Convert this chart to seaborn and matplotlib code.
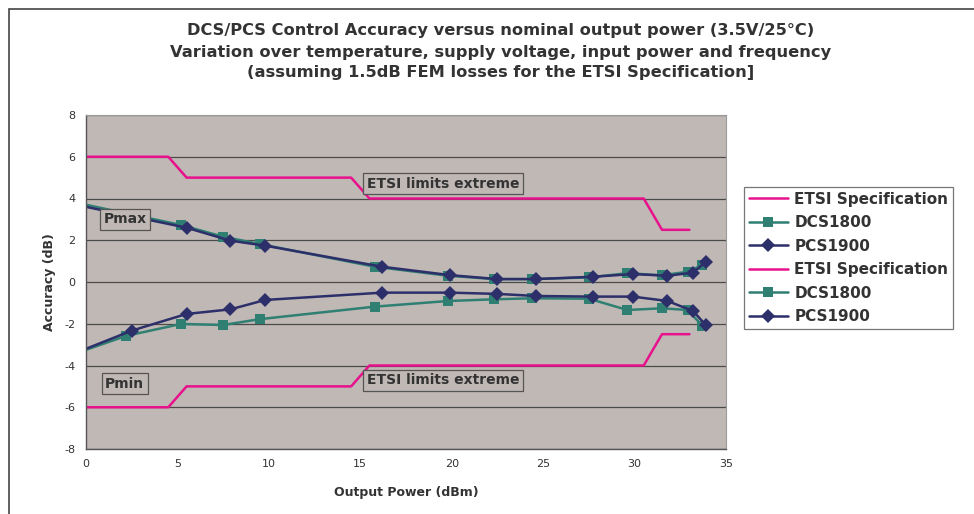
import pandas as pd
import matplotlib.pyplot as plt
import seaborn as sns
from matplotlib.patches import Rectangle

# ETSI limits (upper and lower)
etsi_x = [0, 4.5, 5.5, 14.5, 15.5, 30.5, 31.5, 33]
etsi_upper = [6, 6, 5, 5, 4, 4, 2.5, 2.5]
etsi_lower = [-6, -6, -5, -5, -4, -4, -2.5, -2.5]

# DCS1800 measured accuracy
dcs_x = [0, 2.2, 5.2, 7.5, 9.5, 15.8, 19.8, 22.3, 24.4, 27.5, 29.6, 31.5, 32.9, 33.7]
dcs_pmax = [3.7, None, 2.73, 2.17, 1.82, 0.73, 0.3, 0.14, 0.14, 0.22, 0.42, 0.32, 0.49, 0.81]
dcs_pmin = [-3.25, -2.58, -2.01, -2.06, -1.78, -1.18, -0.91, -0.83, -0.78, -0.8, -1.34, -1.26, -1.34, -2.09]

# PCS1900 measured accuracy
pcs_x = [0, 2.5, 5.5, 7.9, 9.8, 16.2, 19.9, 22.5, 24.6, 27.7, 29.9, 31.8, 33.2, 33.9]
pcs_pmax = [3.6, None, 2.6, 1.98, 1.74, 0.73, 0.33, 0.14, 0.14, 0.25, 0.38, 0.3, 0.45, 0.97]
pcs_pmin = [-3.2, -2.33, -1.53, -1.31, -0.86, -0.51, -0.51, -0.57, -0.67, -0.7, -0.7, -0.91, -1.39, -2.07]

TITLE = ("DCS/PCS Control Accuracy versus nominal output power (3.5V/25\u00b0C)\n"
         "Variation over temperature, supply voltage, input power and frequency\n"
         "(assuming 1.5dB FEM losses for the ETSI Specification]")

ETSI_COLOR = "#E8118C"
DCS_COLOR = "#2F7F73"
PCS_COLOR = "#2D2F6A"
BG_COLOR = "#C0B8B5"
TEXT_COLOR = "#333333"

sns.set_style("white")
plt.rcParams['font.family'] = ['DejaVu Sans']
plt.rcParams['axes.unicode_minus'] = False

fig = plt.figure(figsize=(9.74, 5.14), dpi=100)
ax = fig.add_axes([86 / 974, 65 / 514, 640 / 974, 334 / 514])
ax.set_facecolor(BG_COLOR)

# outer chart border (runs off the right and bottom edges)
fig.patches.append(Rectangle((9 / 974, -1), 2, 1 + 505 / 514, transform=fig.transFigure,
                             fill=False, edgecolor="#444444", linewidth=1.2))


def series(x, y):
    return pd.DataFrame({"x": x, "y": y}).dropna()


def draw_group(etsi_y, dcs_y, pcs_y):
    sns.lineplot(data=series(etsi_x, etsi_y), x="x", y="y", ax=ax, color=ETSI_COLOR,
                 linewidth=1.8, label="ETSI Specification", sort=False, estimator=None)
    sns.lineplot(data=series(dcs_x, dcs_y), x="x", y="y", ax=ax, color=DCS_COLOR,
                 linewidth=1.8, marker="s", markersize=6.5, markeredgewidth=0,
                 markevery=slice(1, None), label="DCS1800", sort=False, estimator=None)
    sns.lineplot(data=series(pcs_x, pcs_y), x="x", y="y", ax=ax, color=PCS_COLOR,
                 linewidth=1.8, marker="D", markersize=7, markeredgewidth=0,
                 markevery=slice(1, None), label="PCS1900", sort=False, estimator=None)


draw_group(etsi_upper, dcs_pmax, pcs_pmax)
draw_group(etsi_lower, dcs_pmin, pcs_pmin)

ax.set_xlim(0, 35)
ax.set_ylim(-8, 8)
ax.set_xticks(range(0, 36, 5))
ax.set_yticks(range(-8, 9, 2))
ax.yaxis.grid(True, color="#4a4a4a", linewidth=0.9)
ax.set_axisbelow(True)
for side in ["top", "right"]:
    ax.spines[side].set_color("#9a9a9a")
    ax.spines[side].set_linewidth(0.8)
for side in ["left", "bottom"]:
    ax.spines[side].set_color("#555555")
    ax.spines[side].set_linewidth(1.0)
ax.tick_params(axis="both", length=4, width=0.8, color="#555555",
               labelsize=8, labelcolor=TEXT_COLOR, direction="out")

ax.set_xlabel("Output Power (dBm)", fontsize=9, fontweight="bold", color=TEXT_COLOR, labelpad=12)
ax.set_ylabel("Accuracy (dB)", fontsize=9, fontweight="bold", color=TEXT_COLOR, labelpad=6)

box = dict(boxstyle="square,pad=0.25", facecolor=BG_COLOR, edgecolor="#555555", linewidth=0.9)
txt = dict(fontsize=10, fontweight="bold", color=TEXT_COLOR, bbox=box, va="center")
ax.text(0.95, 3.0, "Pmax", ha="left", **txt)
ax.text(1.05, -4.88, "Pmin", ha="left", **txt)
ax.text(15.35, 4.7, "ETSI limits extreme", ha="left", **txt)
ax.text(15.35, -4.7, "ETSI limits extreme", ha="left", **txt)

fig.text(501 / 974, 1 - 52 / 514, TITLE, ha="center", va="center", fontsize=11.7,
         fontweight="bold", color=TEXT_COLOR, linespacing=1.5)

leg = ax.legend(loc="upper left", bbox_to_anchor=(744 / 974, 1 - 187 / 514),
                bbox_transform=fig.transFigure, frameon=True, fancybox=False,
                prop={"weight": "bold", "size": 11}, handlelength=2.6,
                handletextpad=0.4, labelspacing=0.56, borderpad=0.3, borderaxespad=0)
leg.get_frame().set_edgecolor("#555555")
leg.get_frame().set_linewidth(0.9)
for t in leg.get_texts():
    t.set_color(TEXT_COLOR)

fig.savefig("out.png", dpi=100, facecolor="white")
